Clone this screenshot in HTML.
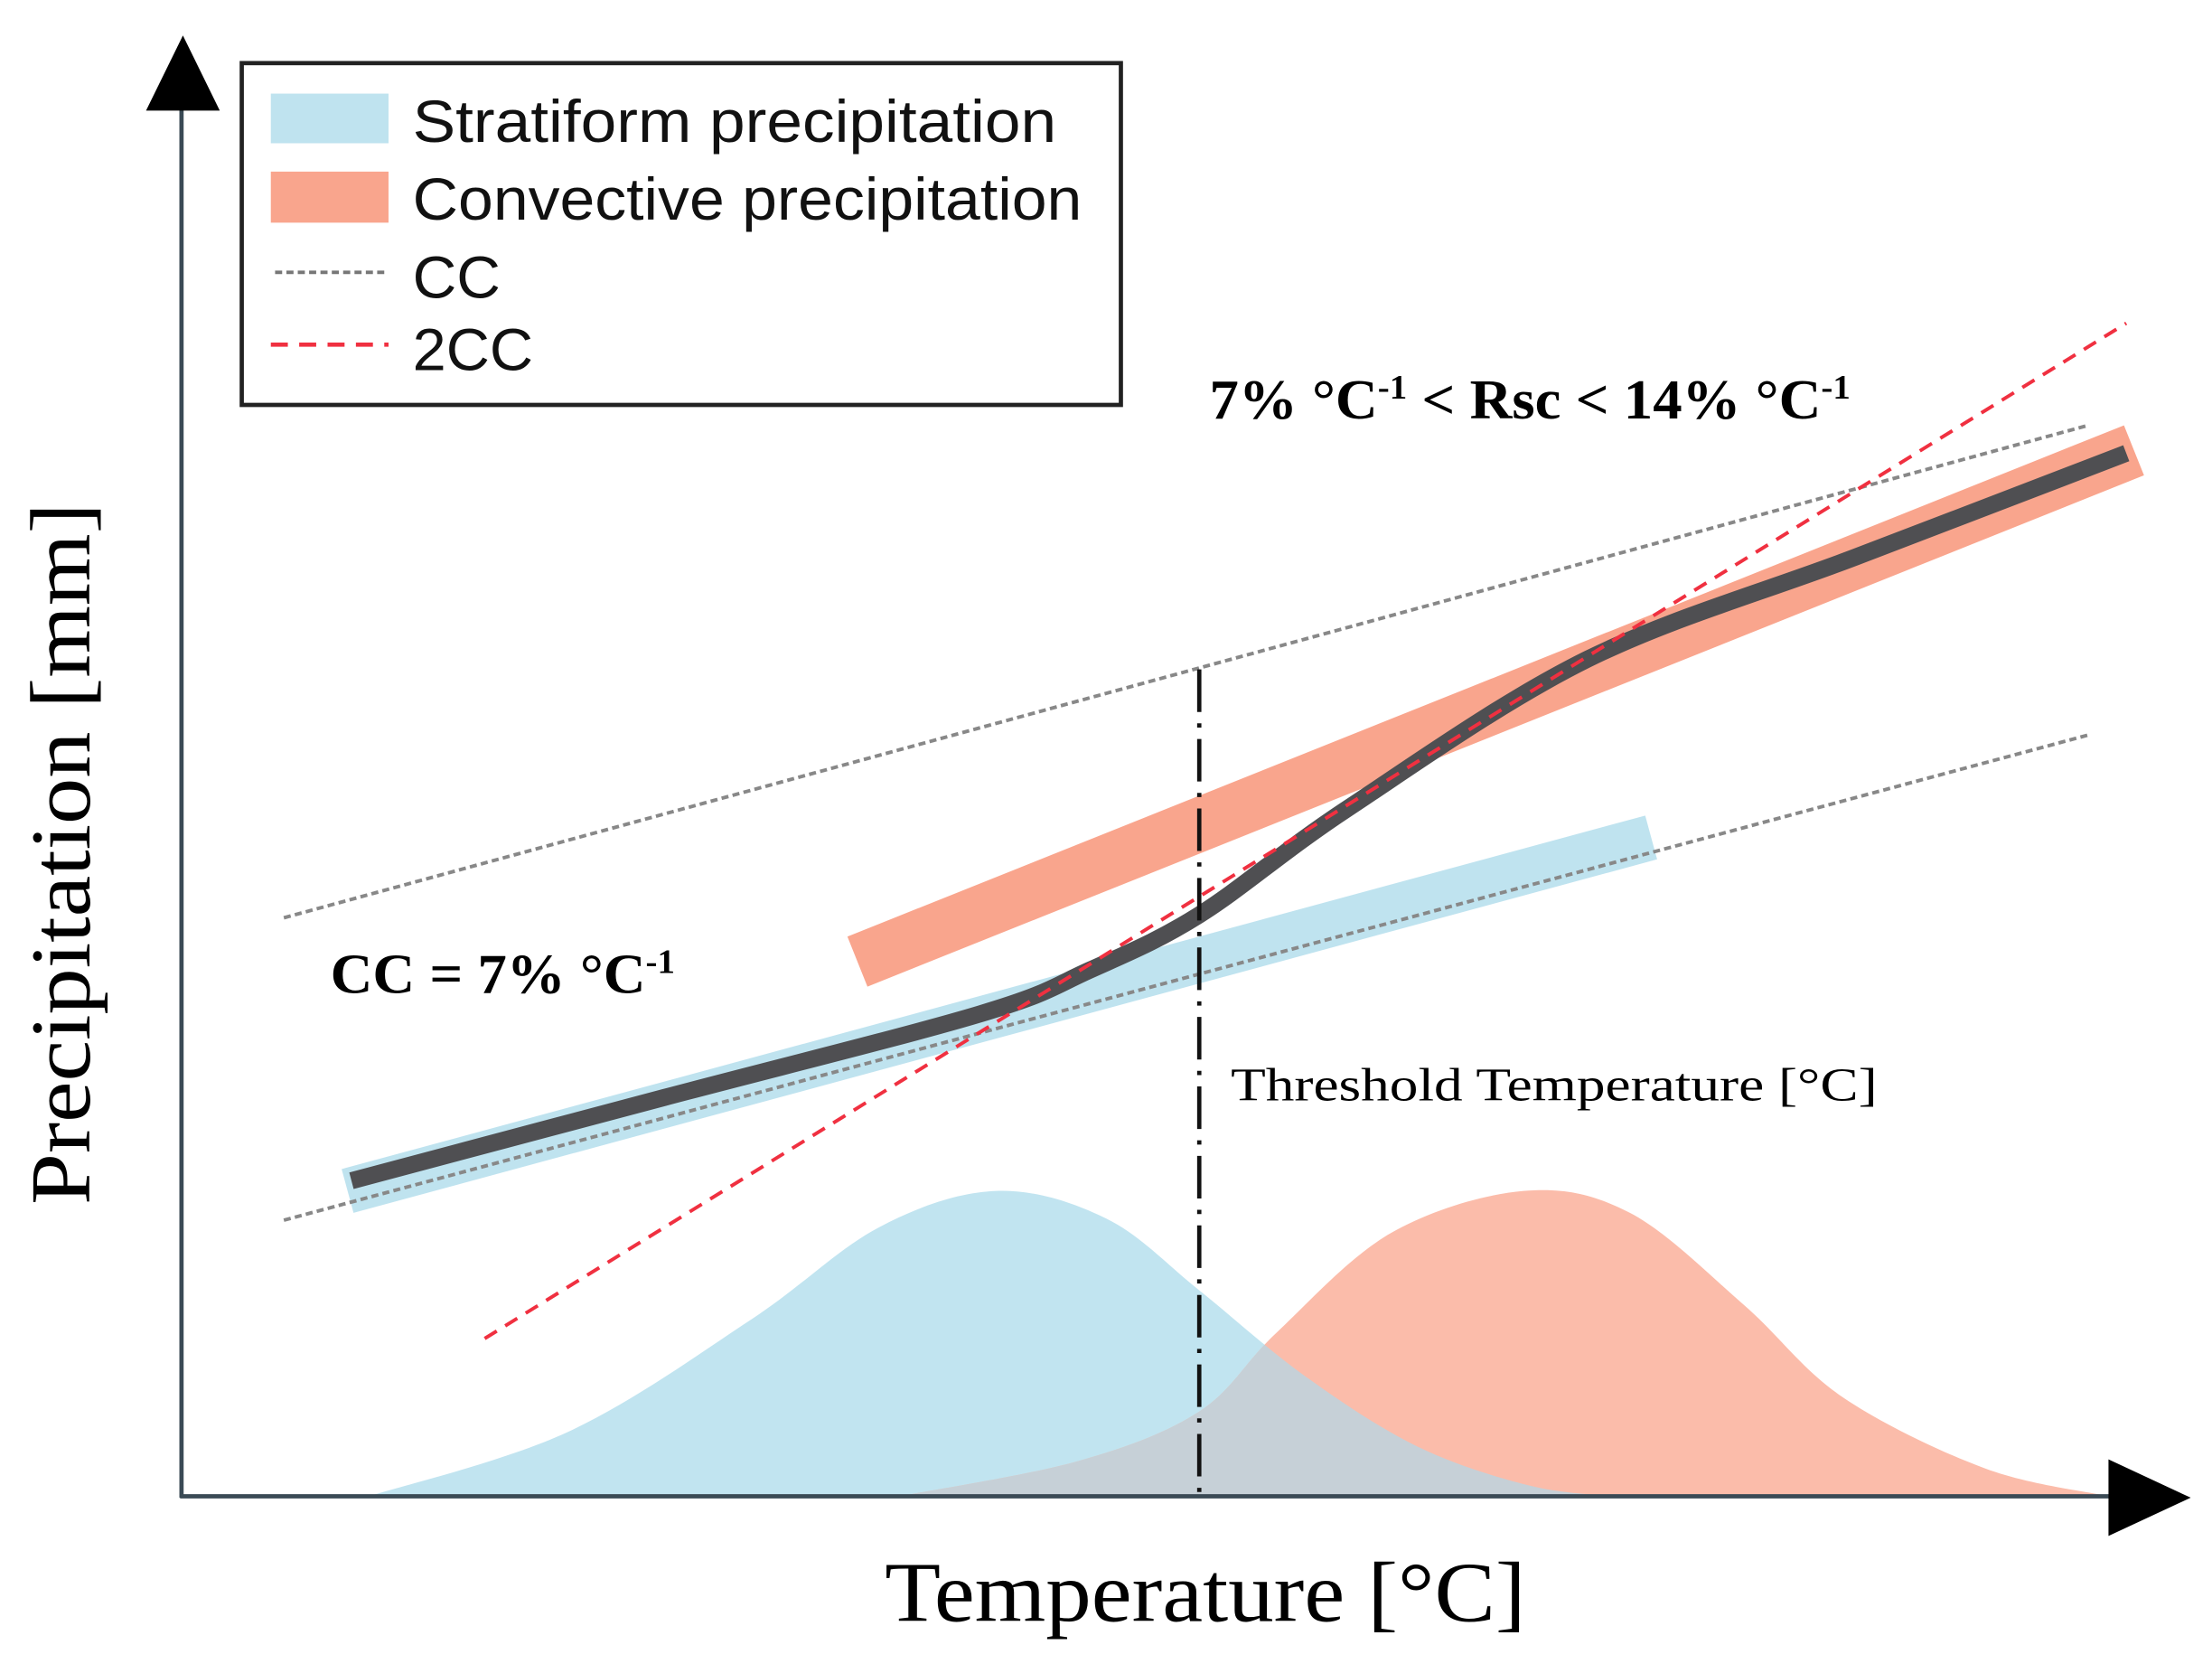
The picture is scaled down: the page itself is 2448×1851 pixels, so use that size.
<!DOCTYPE html>
<html><head><meta charset="utf-8"><style>
html,body{margin:0;padding:0;background:#fff;}
svg{display:block;}
.leg{font-family:"Liberation Sans Narrow","Liberation Sans",sans-serif;font-size:42px;fill:#111;}
.ser{font-family:"Liberation Serif",serif;fill:#000;}
</style></head><body>
<svg id="chart" width="2448" height="1851" viewBox="0 0 1560 1179.6" preserveAspectRatio="none" xmlns="http://www.w3.org/2000/svg">
<defs><clipPath id="blueClip"><path id="blueClipPath" d=""/></clipPath></defs>
<g id="marks"></g>
<line x1="128" y1="1056" x2="128" y2="70" stroke="#3a4a55" stroke-width="3"/>
<polygon points="103,78 155,78 129,25" fill="#000"/>
<line x1="127" y1="1055" x2="1495" y2="1055" stroke="#3a4a55" stroke-width="3"/>
<polygon points="1487,1029 1487,1083 1545,1056" fill="#000"/>
<g>
<rect x="170.5" y="44.5" width="620" height="241" fill="#fff" stroke="#222" stroke-width="3"/>
<rect x="191" y="66" width="83" height="35" fill="#bfe3ef"/>
<text class="leg" x="291" y="100" textLength="454" lengthAdjust="spacingAndGlyphs">Stratiform precipitation</text>
<rect x="191" y="121" width="83" height="36" fill="#f9a58d"/>
<text class="leg" x="291" y="155" textLength="472" lengthAdjust="spacingAndGlyphs">Convective precipitation</text>
<line x1="194" y1="192" x2="274" y2="192" stroke="#777" stroke-width="2.5" stroke-dasharray="5,3"/>
<text class="leg" x="291" y="210" textLength="62" lengthAdjust="spacingAndGlyphs">CC</text>
<line x1="191" y1="243" x2="274" y2="243" stroke="#f03040" stroke-width="3" stroke-dasharray="12,8"/>
<text class="leg" x="291" y="261" textLength="85" lengthAdjust="spacingAndGlyphs">2CC</text>
</g>
<text class="ser" x="853" y="295" font-size="40" font-weight="bold" textLength="452" lengthAdjust="spacingAndGlyphs">7% °C<tspan font-size="24" dy="-14">-1</tspan><tspan dy="14"> &lt; Rsc &lt; 14% °C</tspan><tspan font-size="24" dy="-14">-1</tspan></text>
<text class="ser" x="233" y="700" font-size="40" font-weight="bold" textLength="243" lengthAdjust="spacingAndGlyphs">CC = 7% °C<tspan font-size="24" dy="-14">-1</tspan></text>
<text class="ser" x="868" y="776" font-size="33" textLength="456" lengthAdjust="spacingAndGlyphs">Threshold Temperature [°C]</text>
<text class="ser" x="850" y="1143" font-size="60" text-anchor="middle" textLength="452" lengthAdjust="spacingAndGlyphs">Temperature [°C]</text>
<text class="ser" transform="translate(63,602) rotate(-90)" font-size="60" text-anchor="middle" textLength="495" lengthAdjust="spacingAndGlyphs">Precipitation [mm]</text>
</svg>
<script>
// data units: temperature 0..100 (x), precipitation 0..100 (y)
const stratDistX = [9.7, 20.0, 29.5, 36.1, 42.2, 47.9, 52.7, 58.1, 64.0, 69.9, 74.3];
const stratDistY = [0, 4.4, 12.1, 18.4, 20.9, 19.0, 14.1, 8.3, 3.4, 0.7, 0];
const convDistX = [37.2, 46.4, 52.7, 56.7, 62.6, 69.5, 75.0, 80.9, 86.0, 93.4, 99.8];
const convDistY = [0, 2.4, 5.8, 11.2, 18.0, 20.9, 19.4, 13.1, 6.8, 1.9, 0];
const totalX = [8.8, 25.0, 41.3, 47.0, 52.7, 60.4, 72.8, 86.7, 100.7];
const totalY = [21.6, 27.3, 33.0, 36.0, 39.8, 47.1, 57.3, 64.3, 71.4];
const stratBandX = [8.6, 76.1];
const stratBandY = [20.9, 45.1];
const convBandX = [35.0, 101.1];
const convBandY = [36.6, 71.6];
const ccUpperX = [5.3, 98.7];
const ccUpperY = [39.6, 73.3];
const ccLowerX = [5.3, 98.7];
const ccLowerY = [18.9, 52.1];
const twoCcX = [15.7, 100.7];
const twoCcY = [10.8, 80.3];
const thresholdX = [52.7];
const thresholdTopY = [56.6];

function xs(v){return 128 + v*13.62;}
function ys(v){return 1055 - v*10.3;}
const NS='http://www.w3.org/2000/svg';
const g=document.getElementById('marks');
function smooth(X,Y){
  const p=X.map((x,i)=>[xs(x),ys(Y[i])]);
  let d='M'+p[0][0]+','+p[0][1];
  for(let i=0;i<p.length-1;i++){
    const p0=p[i-1]||p[i],p1=p[i],p2=p[i+1],p3=p[i+2]||p[i+1];
    const c1=[p1[0]+(p2[0]-p0[0])/6,p1[1]+(p2[1]-p0[1])/6];
    const c2=[p2[0]-(p3[0]-p1[0])/6,p2[1]-(p3[1]-p1[1])/6];
    d+=' C'+c1[0]+','+c1[1]+' '+c2[0]+','+c2[1]+' '+p2[0]+','+p2[1];
  }
  return d;
}
function mk(tag,attrs){const e=document.createElementNS(NS,tag);for(const k in attrs)e.setAttribute(k,attrs[k]);g.appendChild(e);return e;}

const bd=smooth(stratDistX,stratDistY)+' Z';
const od=smooth(convDistX,convDistY)+' Z';
document.getElementById('blueClipPath').setAttribute('d',bd);
let e;
e=mk('path',{d:bd,fill:'#c1e4f0'});


e=mk('path',{d:od,fill:'#fbbcaa'});


e=mk('path',{d:od,fill:'#c6d0d7','clip-path':'url(#blueClip)'});



e=mk('line',{x1:xs(stratBandX[0]),y1:ys(stratBandY[0]),x2:xs(stratBandX[1]),y2:ys(stratBandY[1]),stroke:'#bfe3ef','stroke-width':32});


e=mk('line',{x1:xs(convBandX[0]),y1:ys(convBandY[0]),x2:xs(convBandX[1]),y2:ys(convBandY[1]),stroke:'#f9a58d','stroke-width':38});



e=mk('line',{x1:xs(ccUpperX[0]),y1:ys(ccUpperY[0]),x2:xs(ccUpperX[1]),y2:ys(ccUpperY[1]),stroke:'#888','stroke-width':2.5,'stroke-dasharray':'5,3'});


e=mk('line',{x1:xs(ccLowerX[0]),y1:ys(ccLowerY[0]),x2:xs(ccLowerX[1]),y2:ys(ccLowerY[1]),stroke:'#888','stroke-width':2.5,'stroke-dasharray':'5,3'});



e=mk('path',{d:smooth(totalX,totalY),fill:'none',stroke:'#4f4f52','stroke-width':12,'stroke-linecap':'butt'});



e=mk('line',{x1:xs(twoCcX[0]),y1:ys(twoCcY[0]),x2:xs(twoCcX[1]),y2:ys(twoCcY[1]),stroke:'#f03040','stroke-width':2.5,'stroke-dasharray':'10,7'});



e=mk('line',{x1:xs(thresholdX[0]),y1:ys(thresholdTopY[0]),x2:xs(thresholdX[0]),y2:ys(0),stroke:'#111','stroke-width':3,'stroke-dasharray':'30,8,3,8'});


</script>
</body></html>
